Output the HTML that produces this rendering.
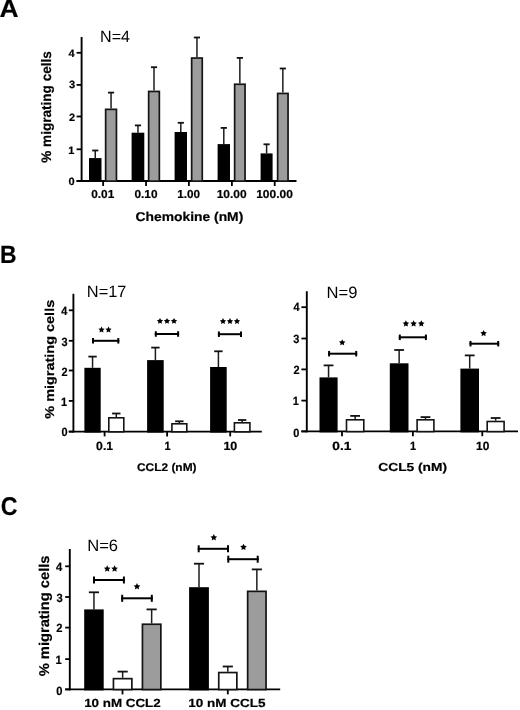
<!DOCTYPE html>
<html><head><meta charset="utf-8"><style>
html,body{margin:0;padding:0;background:#fff;width:520px;height:710px;overflow:hidden}
svg{display:block;will-change:transform}
text{font-family:"Liberation Sans", sans-serif;fill:#000;text-rendering:geometricPrecision}
text[font-weight=bold]{stroke:#000;stroke-width:0.2px}
</style></head><body>
<svg width="520" height="710" viewBox="0 0 520 710">

<rect width="520" height="710" fill="#fff"/>
<g>
<line x1="81.60" y1="37.00" x2="81.60" y2="181.95" stroke="#000" stroke-width="1.9"/>
<line x1="76.60" y1="181.00" x2="296.50" y2="181.00" stroke="#000" stroke-width="1.9"/>
<line x1="76.60" y1="52.80" x2="81.60" y2="52.80" stroke="#000" stroke-width="1.8"/>
<line x1="76.60" y1="84.90" x2="81.60" y2="84.90" stroke="#000" stroke-width="1.8"/>
<line x1="76.60" y1="116.50" x2="81.60" y2="116.50" stroke="#000" stroke-width="1.8"/>
<line x1="76.60" y1="149.30" x2="81.60" y2="149.30" stroke="#000" stroke-width="1.8"/>
<line x1="76.60" y1="181.00" x2="81.60" y2="181.00" stroke="#000" stroke-width="1.8"/>
<line x1="103.15" y1="181.00" x2="103.15" y2="186.00" stroke="#000" stroke-width="1.8"/>
<line x1="146.05" y1="181.00" x2="146.05" y2="186.00" stroke="#000" stroke-width="1.8"/>
<line x1="188.90" y1="181.00" x2="188.90" y2="186.00" stroke="#000" stroke-width="1.8"/>
<line x1="231.90" y1="181.00" x2="231.90" y2="186.00" stroke="#000" stroke-width="1.8"/>
<line x1="274.70" y1="181.00" x2="274.70" y2="186.00" stroke="#000" stroke-width="1.8"/>
<line x1="95.25" y1="158.10" x2="95.25" y2="150.50" stroke="#1c1c1c" stroke-width="1.5"/>
<line x1="92.15" y1="150.50" x2="98.35" y2="150.50" stroke="#111" stroke-width="1.8"/>
<rect x="89.00" y="158.10" width="12.50" height="23.90" fill="#000"/>
<line x1="111.05" y1="108.50" x2="111.05" y2="92.60" stroke="#1c1c1c" stroke-width="1.5"/>
<line x1="107.95" y1="92.60" x2="114.15" y2="92.60" stroke="#111" stroke-width="1.8"/>
<rect x="105.65" y="109.35" width="10.80" height="71.80" fill="#9c9c9c" stroke="#141414" stroke-width="1.7"/>
<line x1="137.95" y1="132.70" x2="137.95" y2="125.40" stroke="#1c1c1c" stroke-width="1.5"/>
<line x1="134.85" y1="125.40" x2="141.05" y2="125.40" stroke="#111" stroke-width="1.8"/>
<rect x="131.60" y="132.70" width="12.70" height="49.30" fill="#000"/>
<line x1="154.00" y1="90.60" x2="154.00" y2="67.20" stroke="#1c1c1c" stroke-width="1.5"/>
<line x1="150.90" y1="67.20" x2="157.10" y2="67.20" stroke="#111" stroke-width="1.8"/>
<rect x="148.65" y="91.45" width="10.70" height="89.70" fill="#9c9c9c" stroke="#141414" stroke-width="1.7"/>
<line x1="180.80" y1="132.00" x2="180.80" y2="122.80" stroke="#1c1c1c" stroke-width="1.5"/>
<line x1="177.70" y1="122.80" x2="183.90" y2="122.80" stroke="#111" stroke-width="1.8"/>
<rect x="174.60" y="132.00" width="12.40" height="50.00" fill="#000"/>
<line x1="196.95" y1="57.20" x2="196.95" y2="37.50" stroke="#1c1c1c" stroke-width="1.5"/>
<line x1="193.85" y1="37.50" x2="200.05" y2="37.50" stroke="#111" stroke-width="1.8"/>
<rect x="191.65" y="58.05" width="10.60" height="123.10" fill="#9c9c9c" stroke="#141414" stroke-width="1.7"/>
<line x1="223.80" y1="144.10" x2="223.80" y2="127.90" stroke="#1c1c1c" stroke-width="1.5"/>
<line x1="220.70" y1="127.90" x2="226.90" y2="127.90" stroke="#111" stroke-width="1.8"/>
<rect x="217.60" y="144.10" width="12.40" height="37.90" fill="#000"/>
<line x1="239.85" y1="83.40" x2="239.85" y2="57.90" stroke="#1c1c1c" stroke-width="1.5"/>
<line x1="236.75" y1="57.90" x2="242.95" y2="57.90" stroke="#111" stroke-width="1.8"/>
<rect x="234.65" y="84.25" width="10.40" height="96.90" fill="#9c9c9c" stroke="#141414" stroke-width="1.7"/>
<line x1="266.60" y1="153.40" x2="266.60" y2="144.30" stroke="#1c1c1c" stroke-width="1.5"/>
<line x1="263.50" y1="144.30" x2="269.70" y2="144.30" stroke="#111" stroke-width="1.8"/>
<rect x="260.60" y="153.40" width="12.00" height="28.60" fill="#000"/>
<line x1="282.85" y1="92.60" x2="282.85" y2="68.50" stroke="#1c1c1c" stroke-width="1.5"/>
<line x1="279.75" y1="68.50" x2="285.95" y2="68.50" stroke="#111" stroke-width="1.8"/>
<rect x="277.65" y="93.45" width="10.40" height="87.70" fill="#9c9c9c" stroke="#141414" stroke-width="1.7"/>
<line x1="73.40" y1="293.80" x2="73.40" y2="432.55" stroke="#000" stroke-width="1.9"/>
<line x1="68.80" y1="431.60" x2="261.80" y2="431.60" stroke="#000" stroke-width="1.9"/>
<line x1="68.80" y1="310.30" x2="73.40" y2="310.30" stroke="#000" stroke-width="1.8"/>
<line x1="68.80" y1="340.80" x2="73.40" y2="340.80" stroke="#000" stroke-width="1.8"/>
<line x1="68.80" y1="370.50" x2="73.40" y2="370.50" stroke="#000" stroke-width="1.8"/>
<line x1="68.80" y1="400.90" x2="73.40" y2="400.90" stroke="#000" stroke-width="1.8"/>
<line x1="68.80" y1="431.60" x2="73.40" y2="431.60" stroke="#000" stroke-width="1.8"/>
<line x1="104.60" y1="431.60" x2="104.60" y2="436.40" stroke="#000" stroke-width="1.8"/>
<line x1="167.10" y1="431.60" x2="167.10" y2="436.40" stroke="#000" stroke-width="1.8"/>
<line x1="230.20" y1="431.60" x2="230.20" y2="436.40" stroke="#000" stroke-width="1.8"/>
<line x1="92.55" y1="367.80" x2="92.55" y2="356.60" stroke="#1c1c1c" stroke-width="1.5"/>
<line x1="88.35" y1="356.60" x2="96.75" y2="356.60" stroke="#111" stroke-width="1.8"/>
<rect x="84.40" y="367.80" width="16.30" height="64.80" fill="#000"/>
<line x1="116.30" y1="417.00" x2="116.30" y2="413.50" stroke="#1c1c1c" stroke-width="1.5"/>
<line x1="112.10" y1="413.50" x2="120.50" y2="413.50" stroke="#111" stroke-width="1.8"/>
<rect x="108.80" y="417.80" width="15.00" height="14.00" fill="#fff" stroke="#141414" stroke-width="1.6"/>
<line x1="155.40" y1="360.10" x2="155.40" y2="347.60" stroke="#1c1c1c" stroke-width="1.5"/>
<line x1="151.20" y1="347.60" x2="159.60" y2="347.60" stroke="#111" stroke-width="1.8"/>
<rect x="147.10" y="360.10" width="16.60" height="72.50" fill="#000"/>
<line x1="179.35" y1="423.00" x2="179.35" y2="421.30" stroke="#1c1c1c" stroke-width="1.5"/>
<line x1="175.15" y1="421.30" x2="183.55" y2="421.30" stroke="#111" stroke-width="1.8"/>
<rect x="171.90" y="423.80" width="14.90" height="8.00" fill="#fff" stroke="#141414" stroke-width="1.6"/>
<line x1="218.40" y1="367.00" x2="218.40" y2="351.30" stroke="#1c1c1c" stroke-width="1.5"/>
<line x1="214.20" y1="351.30" x2="222.60" y2="351.30" stroke="#111" stroke-width="1.8"/>
<rect x="210.10" y="367.00" width="16.60" height="65.60" fill="#000"/>
<line x1="242.15" y1="422.00" x2="242.15" y2="420.00" stroke="#1c1c1c" stroke-width="1.5"/>
<line x1="237.95" y1="420.00" x2="246.35" y2="420.00" stroke="#111" stroke-width="1.8"/>
<rect x="234.40" y="422.80" width="15.50" height="9.00" fill="#fff" stroke="#141414" stroke-width="1.6"/>
<line x1="92.00" y1="340.80" x2="119.30" y2="340.80" stroke="#000" stroke-width="2"/>
<line x1="93.00" y1="338.05" x2="93.00" y2="343.55" stroke="#000" stroke-width="2"/>
<line x1="118.30" y1="338.05" x2="118.30" y2="343.55" stroke="#000" stroke-width="2"/>
<polygon points="101.50,326.50 102.47,328.47 104.64,328.78 103.07,330.31 103.44,332.47 101.50,331.45 99.56,332.47 99.93,330.31 98.36,328.78 100.53,328.47" fill="#000"/>
<polygon points="108.50,326.50 109.47,328.47 111.64,328.78 110.07,330.31 110.44,332.47 108.50,331.45 106.56,332.47 106.93,330.31 105.36,328.78 107.53,328.47" fill="#000"/>
<line x1="154.80" y1="334.00" x2="179.10" y2="334.00" stroke="#000" stroke-width="2"/>
<line x1="155.80" y1="331.25" x2="155.80" y2="336.75" stroke="#000" stroke-width="2"/>
<line x1="178.10" y1="331.25" x2="178.10" y2="336.75" stroke="#000" stroke-width="2"/>
<polygon points="160.00,317.90 160.97,319.87 163.14,320.18 161.57,321.71 161.94,323.87 160.00,322.85 158.06,323.87 158.43,321.71 156.86,320.18 159.03,319.87" fill="#000"/>
<polygon points="167.00,317.90 167.97,319.87 170.14,320.18 168.57,321.71 168.94,323.87 167.00,322.85 165.06,323.87 165.43,321.71 163.86,320.18 166.03,319.87" fill="#000"/>
<polygon points="174.00,317.90 174.97,319.87 177.14,320.18 175.57,321.71 175.94,323.87 174.00,322.85 172.06,323.87 172.43,321.71 170.86,320.18 173.03,319.87" fill="#000"/>
<line x1="217.90" y1="334.20" x2="242.00" y2="334.20" stroke="#000" stroke-width="2"/>
<line x1="218.90" y1="331.45" x2="218.90" y2="336.95" stroke="#000" stroke-width="2"/>
<line x1="241.00" y1="331.45" x2="241.00" y2="336.95" stroke="#000" stroke-width="2"/>
<polygon points="223.00,318.10 223.97,320.07 226.14,320.38 224.57,321.91 224.94,324.07 223.00,323.05 221.06,324.07 221.43,321.91 219.86,320.38 222.03,320.07" fill="#000"/>
<polygon points="230.00,318.10 230.97,320.07 233.14,320.38 231.57,321.91 231.94,324.07 230.00,323.05 228.06,324.07 228.43,321.91 226.86,320.38 229.03,320.07" fill="#000"/>
<polygon points="237.00,318.10 237.97,320.07 240.14,320.38 238.57,321.91 238.94,324.07 237.00,323.05 235.06,324.07 235.43,321.91 233.86,320.38 236.03,320.07" fill="#000"/>
<line x1="306.80" y1="291.25" x2="306.80" y2="432.35" stroke="#000" stroke-width="1.9"/>
<line x1="301.40" y1="431.40" x2="518.00" y2="431.40" stroke="#000" stroke-width="1.9"/>
<line x1="301.40" y1="307.20" x2="306.80" y2="307.20" stroke="#000" stroke-width="1.8"/>
<line x1="301.40" y1="338.50" x2="306.80" y2="338.50" stroke="#000" stroke-width="1.8"/>
<line x1="301.40" y1="369.40" x2="306.80" y2="369.40" stroke="#000" stroke-width="1.8"/>
<line x1="301.40" y1="400.60" x2="306.80" y2="400.60" stroke="#000" stroke-width="1.8"/>
<line x1="301.40" y1="431.40" x2="306.80" y2="431.40" stroke="#000" stroke-width="1.8"/>
<line x1="342.00" y1="431.40" x2="342.00" y2="436.20" stroke="#000" stroke-width="1.8"/>
<line x1="412.90" y1="431.40" x2="412.90" y2="436.20" stroke="#000" stroke-width="1.8"/>
<line x1="482.30" y1="431.40" x2="482.30" y2="436.20" stroke="#000" stroke-width="1.8"/>
<line x1="328.55" y1="377.40" x2="328.55" y2="365.40" stroke="#1c1c1c" stroke-width="1.5"/>
<line x1="323.65" y1="365.40" x2="333.45" y2="365.40" stroke="#111" stroke-width="1.8"/>
<rect x="319.50" y="377.40" width="18.10" height="55.00" fill="#000"/>
<line x1="355.15" y1="419.00" x2="355.15" y2="415.90" stroke="#1c1c1c" stroke-width="1.5"/>
<line x1="350.25" y1="415.90" x2="360.05" y2="415.90" stroke="#111" stroke-width="1.8"/>
<rect x="346.50" y="419.80" width="17.30" height="11.80" fill="#fff" stroke="#141414" stroke-width="1.6"/>
<line x1="399.15" y1="363.30" x2="399.15" y2="350.00" stroke="#1c1c1c" stroke-width="1.5"/>
<line x1="394.25" y1="350.00" x2="404.05" y2="350.00" stroke="#111" stroke-width="1.8"/>
<rect x="389.80" y="363.30" width="18.70" height="69.10" fill="#000"/>
<line x1="425.50" y1="419.00" x2="425.50" y2="417.10" stroke="#1c1c1c" stroke-width="1.5"/>
<line x1="420.60" y1="417.10" x2="430.40" y2="417.10" stroke="#111" stroke-width="1.8"/>
<rect x="417.10" y="419.80" width="16.80" height="11.80" fill="#fff" stroke="#141414" stroke-width="1.6"/>
<line x1="469.70" y1="368.60" x2="469.70" y2="355.40" stroke="#1c1c1c" stroke-width="1.5"/>
<line x1="464.80" y1="355.40" x2="474.60" y2="355.40" stroke="#111" stroke-width="1.8"/>
<rect x="460.40" y="368.60" width="18.60" height="63.80" fill="#000"/>
<line x1="495.65" y1="420.70" x2="495.65" y2="418.00" stroke="#1c1c1c" stroke-width="1.5"/>
<line x1="490.75" y1="418.00" x2="500.55" y2="418.00" stroke="#111" stroke-width="1.8"/>
<rect x="487.20" y="421.50" width="16.90" height="10.10" fill="#fff" stroke="#141414" stroke-width="1.6"/>
<line x1="328.10" y1="353.70" x2="357.20" y2="353.70" stroke="#000" stroke-width="2"/>
<line x1="329.10" y1="350.95" x2="329.10" y2="356.45" stroke="#000" stroke-width="2"/>
<line x1="356.20" y1="350.95" x2="356.20" y2="356.45" stroke="#000" stroke-width="2"/>
<polygon points="342.20,339.20 343.20,341.22 345.43,341.55 343.82,343.13 344.20,345.35 342.20,344.30 340.20,345.35 340.58,343.13 338.97,341.55 341.20,341.22" fill="#000"/>
<line x1="398.80" y1="337.30" x2="426.90" y2="337.30" stroke="#000" stroke-width="2"/>
<line x1="399.80" y1="334.55" x2="399.80" y2="340.05" stroke="#000" stroke-width="2"/>
<line x1="425.90" y1="334.55" x2="425.90" y2="340.05" stroke="#000" stroke-width="2"/>
<polygon points="405.90,320.30 406.90,322.32 409.13,322.65 407.52,324.23 407.90,326.45 405.90,325.40 403.90,326.45 404.28,324.23 402.67,322.65 404.90,322.32" fill="#000"/>
<polygon points="413.60,320.30 414.60,322.32 416.83,322.65 415.22,324.23 415.60,326.45 413.60,325.40 411.60,326.45 411.98,324.23 410.37,322.65 412.60,322.32" fill="#000"/>
<polygon points="421.30,320.30 422.30,322.32 424.53,322.65 422.92,324.23 423.30,326.45 421.30,325.40 419.30,326.45 419.68,324.23 418.07,322.65 420.30,322.32" fill="#000"/>
<line x1="469.50" y1="343.70" x2="499.20" y2="343.70" stroke="#000" stroke-width="2"/>
<line x1="470.50" y1="340.95" x2="470.50" y2="346.45" stroke="#000" stroke-width="2"/>
<line x1="498.20" y1="340.95" x2="498.20" y2="346.45" stroke="#000" stroke-width="2"/>
<polygon points="483.60,330.00 484.60,332.02 486.83,332.35 485.22,333.93 485.60,336.15 483.60,335.10 481.60,336.15 481.98,333.93 480.37,332.35 482.60,332.02" fill="#000"/>
<line x1="69.80" y1="549.00" x2="69.80" y2="690.35" stroke="#000" stroke-width="1.9"/>
<line x1="65.20" y1="689.40" x2="280.20" y2="689.40" stroke="#000" stroke-width="1.9"/>
<line x1="65.20" y1="566.30" x2="69.80" y2="566.30" stroke="#000" stroke-width="1.8"/>
<line x1="65.20" y1="597.00" x2="69.80" y2="597.00" stroke="#000" stroke-width="1.8"/>
<line x1="65.20" y1="627.60" x2="69.80" y2="627.60" stroke="#000" stroke-width="1.8"/>
<line x1="65.20" y1="659.10" x2="69.80" y2="659.10" stroke="#000" stroke-width="1.8"/>
<line x1="65.20" y1="689.40" x2="69.80" y2="689.40" stroke="#000" stroke-width="1.8"/>
<line x1="122.50" y1="689.40" x2="122.50" y2="694.40" stroke="#000" stroke-width="1.8"/>
<line x1="227.80" y1="689.40" x2="227.80" y2="694.40" stroke="#000" stroke-width="1.8"/>
<line x1="93.95" y1="609.40" x2="93.95" y2="592.30" stroke="#1c1c1c" stroke-width="1.5"/>
<line x1="88.85" y1="592.30" x2="99.05" y2="592.30" stroke="#111" stroke-width="1.8"/>
<rect x="84.20" y="609.40" width="19.50" height="81.00" fill="#000"/>
<line x1="122.65" y1="677.80" x2="122.65" y2="671.60" stroke="#1c1c1c" stroke-width="1.5"/>
<line x1="117.55" y1="671.60" x2="127.75" y2="671.60" stroke="#111" stroke-width="1.8"/>
<rect x="113.45" y="678.65" width="18.40" height="10.90" fill="#fff" stroke="#141414" stroke-width="1.7"/>
<line x1="151.65" y1="623.40" x2="151.65" y2="609.40" stroke="#1c1c1c" stroke-width="1.5"/>
<line x1="146.55" y1="609.40" x2="156.75" y2="609.40" stroke="#111" stroke-width="1.8"/>
<rect x="142.45" y="624.25" width="18.40" height="65.30" fill="#9c9c9c" stroke="#141414" stroke-width="1.7"/>
<line x1="199.00" y1="587.20" x2="199.00" y2="563.70" stroke="#1c1c1c" stroke-width="1.5"/>
<line x1="193.90" y1="563.70" x2="204.10" y2="563.70" stroke="#111" stroke-width="1.8"/>
<rect x="189.10" y="587.20" width="19.80" height="103.20" fill="#000"/>
<line x1="227.80" y1="671.70" x2="227.80" y2="666.50" stroke="#1c1c1c" stroke-width="1.5"/>
<line x1="222.70" y1="666.50" x2="232.90" y2="666.50" stroke="#111" stroke-width="1.8"/>
<rect x="218.75" y="672.55" width="18.10" height="17.00" fill="#fff" stroke="#141414" stroke-width="1.7"/>
<line x1="256.85" y1="590.50" x2="256.85" y2="569.40" stroke="#1c1c1c" stroke-width="1.5"/>
<line x1="251.75" y1="569.40" x2="261.95" y2="569.40" stroke="#111" stroke-width="1.8"/>
<rect x="247.65" y="591.35" width="18.40" height="98.20" fill="#9c9c9c" stroke="#141414" stroke-width="1.7"/>
<line x1="93.00" y1="580.00" x2="124.90" y2="580.00" stroke="#000" stroke-width="2"/>
<line x1="94.00" y1="576.50" x2="94.00" y2="583.50" stroke="#000" stroke-width="2"/>
<line x1="123.90" y1="576.50" x2="123.90" y2="583.50" stroke="#000" stroke-width="2"/>
<polygon points="107.20,565.30 108.23,567.38 110.53,567.72 108.86,569.34 109.26,571.63 107.20,570.55 105.14,571.63 105.54,569.34 103.87,567.72 106.17,567.38" fill="#000"/>
<polygon points="114.60,565.30 115.63,567.38 117.93,567.72 116.26,569.34 116.66,571.63 114.60,570.55 112.54,571.63 112.94,569.34 111.27,567.72 113.57,567.38" fill="#000"/>
<line x1="121.20" y1="598.30" x2="152.80" y2="598.30" stroke="#000" stroke-width="2"/>
<line x1="122.20" y1="594.80" x2="122.20" y2="601.80" stroke="#000" stroke-width="2"/>
<line x1="151.80" y1="594.80" x2="151.80" y2="601.80" stroke="#000" stroke-width="2"/>
<polygon points="137.00,583.10 138.03,585.18 140.33,585.52 138.66,587.14 139.06,589.43 137.00,588.35 134.94,589.43 135.34,587.14 133.67,585.52 135.97,585.18" fill="#000"/>
<line x1="197.70" y1="548.80" x2="229.00" y2="548.80" stroke="#000" stroke-width="2"/>
<line x1="198.70" y1="545.30" x2="198.70" y2="552.30" stroke="#000" stroke-width="2"/>
<line x1="228.00" y1="545.30" x2="228.00" y2="552.30" stroke="#000" stroke-width="2"/>
<polygon points="213.80,534.10 214.83,536.18 217.13,536.52 215.46,538.14 215.86,540.43 213.80,539.35 211.74,540.43 212.14,538.14 210.47,536.52 212.77,536.18" fill="#000"/>
<line x1="227.30" y1="559.20" x2="258.70" y2="559.20" stroke="#000" stroke-width="2"/>
<line x1="228.30" y1="555.70" x2="228.30" y2="562.70" stroke="#000" stroke-width="2"/>
<line x1="257.70" y1="555.70" x2="257.70" y2="562.70" stroke="#000" stroke-width="2"/>
<polygon points="243.50,543.70 244.53,545.78 246.83,546.12 245.16,547.74 245.56,550.03 243.50,548.95 241.44,550.03 241.84,547.74 240.17,546.12 242.47,545.78" fill="#000"/>
<text x="0" y="0" font-size="25.000" font-weight="bold" text-anchor="middle" transform="translate(9.100 17.300) scale(1.0580 1)">A</text>
<text x="0" y="0" font-size="16.500" font-weight="normal" text-anchor="middle" transform="translate(114.990 41.924) scale(0.9744 1)">N=4</text>
<text x="0" y="0" font-size="10.600" font-weight="bold" text-anchor="middle" transform="translate(71.676 56.639) scale(1.0400 1)">4</text>
<text x="0" y="0" font-size="10.600" font-weight="bold" text-anchor="middle" transform="translate(72.153 88.359) scale(1.0400 1)">3</text>
<text x="0" y="0" font-size="10.600" font-weight="bold" text-anchor="middle" transform="translate(72.045 120.787) scale(1.0400 1)">2</text>
<text x="0" y="0" font-size="10.600" font-weight="bold" text-anchor="middle" transform="translate(71.204 153.758) scale(1.0400 1)">1</text>
<text x="0" y="0" font-size="10.600" font-weight="bold" text-anchor="middle" transform="translate(71.674 185.032) scale(1.0400 1)">0</text>
<text x="0" y="0" font-size="11.500" font-weight="bold" text-anchor="middle" transform="translate(102.761 198.300) scale(1.0274 1)">0.01</text>
<text x="0" y="0" font-size="11.500" font-weight="bold" text-anchor="middle" transform="translate(145.951 198.300) scale(1.0298 1)">0.10</text>
<text x="0" y="0" font-size="11.500" font-weight="bold" text-anchor="middle" transform="translate(188.660 198.300) scale(1.0177 1)">1.00</text>
<text x="0" y="0" font-size="11.500" font-weight="bold" text-anchor="middle" transform="translate(231.607 198.300) scale(1.0400 1)">10.00</text>
<text x="0" y="0" font-size="11.500" font-weight="bold" text-anchor="middle" transform="translate(274.509 198.300) scale(1.0390 1)">100.00</text>
<text x="0" y="0" font-size="12.641" font-weight="bold" text-anchor="middle" transform="translate(189.363 220.670) scale(1.0978 1)">Chemokine (nM)</text>
<text x="0" y="0" font-size="13.760" font-weight="bold" text-anchor="middle" transform="translate(51.317 106.955) rotate(-90) scale(0.9870 1)">% migrating cells</text>
<text x="0" y="0" font-size="25.051" font-weight="bold" text-anchor="middle" transform="translate(8.233 262.824) scale(0.9138 1)">B</text>
<text x="0" y="0" font-size="16.500" font-weight="normal" text-anchor="middle" transform="translate(106.659 297.431) scale(0.9929 1)">N=17</text>
<text x="0" y="0" font-size="11.900" font-weight="bold" text-anchor="middle" transform="translate(64.286 315.483) scale(0.9200 1)">4</text>
<text x="0" y="0" font-size="11.900" font-weight="bold" text-anchor="middle" transform="translate(64.558 345.561) scale(0.9200 1)">3</text>
<text x="0" y="0" font-size="11.900" font-weight="bold" text-anchor="middle" transform="translate(64.588 376.089) scale(0.9200 1)">2</text>
<text x="0" y="0" font-size="11.900" font-weight="bold" text-anchor="middle" transform="translate(64.007 405.503) scale(0.9200 1)">1</text>
<text x="0" y="0" font-size="11.900" font-weight="bold" text-anchor="middle" transform="translate(64.531 436.117) scale(0.9200 1)">0</text>
<text x="0" y="0" font-size="12.000" font-weight="bold" text-anchor="middle" transform="translate(104.580 450.200) scale(1.0153 1)">0.1</text>
<text x="0" y="0" font-size="11.900" font-weight="bold" text-anchor="middle" transform="translate(167.440 450.200) scale(0.9200 1)">1</text>
<text x="0" y="0" font-size="12.000" font-weight="bold" text-anchor="middle" transform="translate(230.366 450.200) scale(1.0424 1)">10</text>
<text x="0" y="0" font-size="11.215" font-weight="bold" text-anchor="middle" transform="translate(166.760 471.323) scale(1.0635 1)">CCL2 (nM)</text>
<text x="0" y="0" font-size="12.836" font-weight="bold" text-anchor="middle" transform="translate(54.284 359.256) rotate(-90) scale(1.1269 1)">% migrating cells</text>
<text x="0" y="0" font-size="16.500" font-weight="normal" text-anchor="middle" transform="translate(342.009 297.916) scale(1.0032 1)">N=9</text>
<text x="0" y="0" font-size="11.900" font-weight="bold" text-anchor="middle" transform="translate(296.537 311.356) scale(0.9200 1)">4</text>
<text x="0" y="0" font-size="11.900" font-weight="bold" text-anchor="middle" transform="translate(296.391 342.554) scale(0.9200 1)">3</text>
<text x="0" y="0" font-size="11.900" font-weight="bold" text-anchor="middle" transform="translate(296.579 374.459) scale(0.9200 1)">2</text>
<text x="0" y="0" font-size="11.900" font-weight="bold" text-anchor="middle" transform="translate(295.684 405.208) scale(0.9200 1)">1</text>
<text x="0" y="0" font-size="11.900" font-weight="bold" text-anchor="middle" transform="translate(296.352 436.526) scale(0.9200 1)">0</text>
<text x="0" y="0" font-size="12.000" font-weight="bold" text-anchor="middle" transform="translate(341.790 450.300) scale(1.1434 1)">0.1</text>
<text x="0" y="0" font-size="11.900" font-weight="bold" text-anchor="middle" transform="translate(412.942 450.300) scale(0.9200 1)">1</text>
<text x="0" y="0" font-size="12.000" font-weight="bold" text-anchor="middle" transform="translate(482.671 450.300) scale(0.9919 1)">10</text>
<text x="0" y="0" font-size="11.541" font-weight="bold" text-anchor="middle" transform="translate(412.661 471.298) scale(1.1924 1)">CCL5 (nM)</text>
<text x="0" y="0" font-size="25.724" font-weight="bold" text-anchor="middle" transform="translate(9.017 515.494) scale(0.8996 1)">C</text>
<text x="0" y="0" font-size="16.500" font-weight="normal" text-anchor="middle" transform="translate(102.642 551.039) scale(1.0035 1)">N=6</text>
<text x="0" y="0" font-size="11.900" font-weight="bold" text-anchor="middle" transform="translate(59.072 571.370) scale(0.9400 1)">4</text>
<text x="0" y="0" font-size="11.900" font-weight="bold" text-anchor="middle" transform="translate(59.514 601.765) scale(0.9400 1)">3</text>
<text x="0" y="0" font-size="11.900" font-weight="bold" text-anchor="middle" transform="translate(59.461 632.116) scale(0.9400 1)">2</text>
<text x="0" y="0" font-size="11.900" font-weight="bold" text-anchor="middle" transform="translate(58.595 664.407) scale(0.9400 1)">1</text>
<text x="0" y="0" font-size="11.900" font-weight="bold" text-anchor="middle" transform="translate(59.269 694.651) scale(0.9400 1)">0</text>
<text x="0" y="0" font-size="11.772" font-weight="bold" text-anchor="middle" transform="translate(122.438 707.300) scale(1.1375 1)">10 nM CCL2</text>
<text x="0" y="0" font-size="11.818" font-weight="bold" text-anchor="middle" transform="translate(226.881 707.300) scale(1.1443 1)">10 nM CCL5</text>
<text x="0" y="0" font-size="14.141" font-weight="bold" text-anchor="middle" transform="translate(48.606 615.892) rotate(-90) scale(1.0398 1)">% migrating cells</text>
</g>
</svg>
</body></html>
